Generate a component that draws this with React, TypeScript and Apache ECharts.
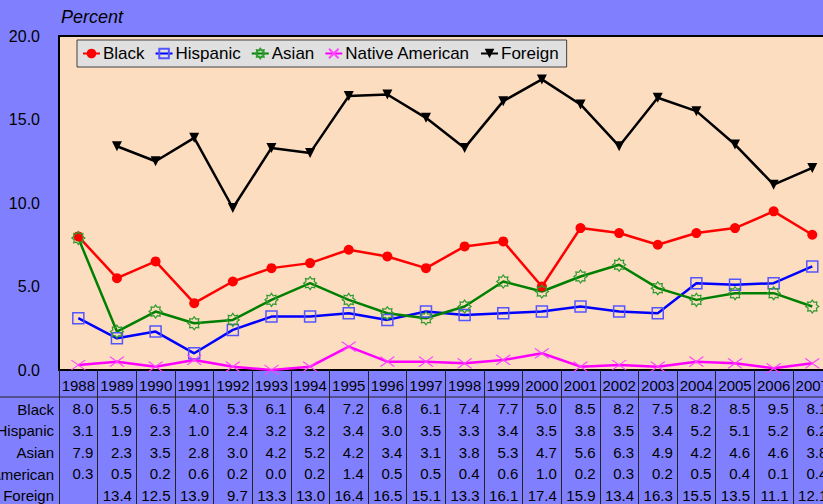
import React, { useEffect, useRef } from "react";
import * as echarts from "echarts";

const years = ["1988","1989","1990","1991","1992","1993","1994","1995","1996","1997","1998","1999","2000","2001","2002","2003","2004","2005","2006","2007"];
const black = [8.0,5.5,6.5,4.0,5.3,6.1,6.4,7.2,6.8,6.1,7.4,7.7,5.0,8.5,8.2,7.5,8.2,8.5,9.5,8.1];
const hispanic = [3.1,1.9,2.3,1.0,2.4,3.2,3.2,3.4,3.0,3.5,3.3,3.4,3.5,3.8,3.5,3.4,5.2,5.1,5.2,6.2];
const asian = [7.9,2.3,3.5,2.8,3.0,4.2,5.2,4.2,3.4,3.1,3.8,5.3,4.7,5.6,6.3,4.9,4.2,4.6,4.6,3.8];
const nativeAm = [0.3,0.5,0.2,0.6,0.2,0.0,0.2,1.4,0.5,0.5,0.4,0.6,1.0,0.2,0.3,0.2,0.5,0.4,0.1,0.4];
const foreign: (number | null)[] = [null,13.4,12.5,13.9,9.7,13.3,13.0,16.4,16.5,15.1,13.3,16.1,17.4,15.9,13.4,16.3,15.5,13.5,11.1,12.1];
const seriesNames = ["Black","Hispanic","Asian","Native American","Foreign"];
const yTicks = [0, 5, 10, 15, 20];

const FONT = "'Liberation Sans', Arial, sans-serif";

function sunPath(): string {
  const pts: string[] = [];
  const n = 16;
  for (let i = 0; i < n; i++) {
    const r = i % 2 === 0 ? 7 : 4.8;
    const a = (Math.PI * 2 * i) / n;
    pts.push(`${i === 0 ? "M" : "L"}${(r * Math.cos(a)).toFixed(2)},${(r * Math.sin(a)).toFixed(2)}`);
  }
  return "path://" + pts.join(" ") + " Z";
}

const fmt = (v: number | null) => (v === null || v === undefined ? " " : v.toFixed(1));

export default function App() {
  const ref = useRef<HTMLDivElement>(null);
  useEffect(() => {
    if (!ref.current) return;
    const chart = echarts.init(ref.current, undefined, { renderer: "svg" });
    const all = [black, hispanic, asian, nativeAm, foreign];
    const option: any = {
      animation: false,
      backgroundColor: "#8080FF",
      textStyle: { fontFamily: FONT },
      title: {
        text: "Percent",
        left: 61,
        top: 8,
        padding: 0,
        textStyle: { fontStyle: "italic", fontWeight: "normal", fontSize: 18, color: "#000", fontFamily: FONT },
      },
      legend: {
        data: seriesNames,
        left: 77,
        top: 40,
        orient: "horizontal",
        padding: [5, 8, 5, 5],
        itemGap: 10,
        itemWidth: 17,
        itemHeight: 12,
        backgroundColor: "#E0E0E0",
        borderColor: "#404040",
        borderWidth: 1,
        borderRadius: 0,
        textStyle: { fontSize: 17, color: "#000", fontFamily: FONT, padding: [0, 0, 0, -2] },
      },
      grid: {
        left: 59,
        top: 36,
        width: 20 * 38.63,
        height: 334,
        show: true,
        backgroundColor: "#FCDDC0",
        borderColor: "#000",
        borderWidth: 2,
      },
      xAxis: {
        type: "category",
        data: years,
        boundaryGap: true,
        axisLine: { show: true, lineStyle: { color: "#000", width: 2 } },
        axisTick: { show: true, interval: 0, length: 140, lineStyle: { color: "#222", width: 1 } },
        axisLabel: {
          interval: 0,
          margin: 2,
          color: "#000",
          formatter: (val: string, idx: number) => {
            const lines = [`{y|${val}}`];
            for (const arr of all) lines.push(`{v|${fmt(arr[idx])}}{s| }`);
            return lines.join("\n");
          },
          rich: {
            y: { fontSize: 15, lineHeight: 26, width: 40, align: "center", color: "#000", fontFamily: FONT },
            v: { fontSize: 15, lineHeight: 21.7, align: "right", color: "#000", fontFamily: FONT },
            s: { fontSize: 15, lineHeight: 21.7, width: 5, align: "right", fontFamily: FONT },
          },
        },
      },
      yAxis: {
        type: "value",
        min: yTicks[0],
        max: yTicks[yTicks.length - 1],
        interval: 5,
        axisLine: { show: false },
        axisTick: { show: false },
        splitLine: { show: false },
        axisLabel: { fontSize: 16, color: "#000", margin: 19, formatter: (v: number) => v.toFixed(1), fontFamily: FONT },
      },
      graphic: [
        { type: "line", shape: { x1: 0, y1: 397, x2: 840, y2: 397 }, style: { stroke: "#222", lineWidth: 1 }, z: 100 },
        ...seriesNames.map((n, i) => ({
          type: "text",
          x: 54,
          y: 409 + i * 21.7,
          style: { text: n, fill: "#000", font: `15px ${FONT}`, textAlign: "right", textVerticalAlign: "middle" },
          z: 100,
        })),
      ],
      series: [
        {
          name: "Black", type: "line", data: black,
          symbol: "circle", symbolSize: 10,
          lineStyle: { color: "#FF0000", width: 2.5 },
          itemStyle: { color: "#FF0000" },
        },
        {
          name: "Hispanic", type: "line", data: hispanic,
          symbol: "rect", symbolSize: 11,
          lineStyle: { color: "#0000FF", width: 2.5 },
          itemStyle: { color: "rgba(0,0,0,0)", borderColor: "#5555FF", borderWidth: 1.5 },
        },
        {
          name: "Asian", type: "line", data: asian,
          symbol: sunPath(), symbolSize: 13,
          lineStyle: { color: "#008000", width: 2.5 },
          itemStyle: { color: "rgba(0,0,0,0)", borderColor: "#2E9A2E", borderWidth: 1.2 },
        },
        {
          name: "Native American", type: "line", data: nativeAm,
          symbol: "path://M0,0L14,10M14,0L0,10", symbolSize: [14, 10],
          lineStyle: { color: "#FF00FF", width: 2.5 },
          itemStyle: { color: "rgba(0,0,0,0)", borderColor: "#FF44FF", borderWidth: 1.2 },
        },
        {
          name: "Foreign", type: "line", data: foreign,
          symbol: "triangle", symbolRotate: 180, symbolSize: [10, 10],
          lineStyle: { color: "#000000", width: 2.5 },
          itemStyle: { color: "#000000" },
        },
      ],
    };
    chart.setOption(option);
    return () => chart.dispose();
  }, []);
  return (
    <div style={{ position: "fixed", left: 0, top: 0, width: 823, height: 504, overflow: "hidden" }}>
      <div ref={ref} style={{ width: 840, height: 504 }} />
    </div>
  );
}
